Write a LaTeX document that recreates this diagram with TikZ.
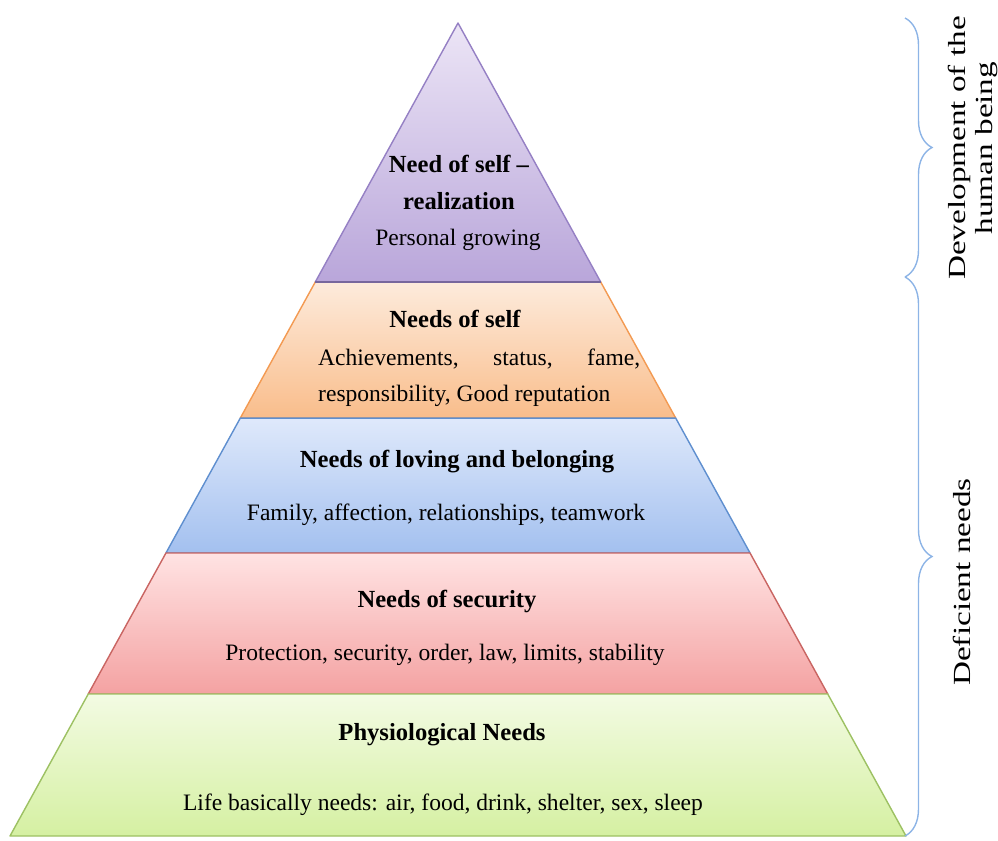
\documentclass[tikz,border=0pt]{standalone}
\usepackage{fontspec}
\setmainfont{Liberation Serif}
\usetikzlibrary{calc,decorations.pathreplacing}

\definecolor{selftop}{HTML}{ECE5F6}
\definecolor{selfbot}{HTML}{B9A6DA}
\definecolor{selfbd}{HTML}{9580C4}
\definecolor{esttop}{HTML}{FDEBDC}
\definecolor{estbot}{HTML}{F9BD8B}
\definecolor{estbd}{HTML}{F39A52}
\definecolor{lovetop}{HTML}{DFE9FB}
\definecolor{lovebot}{HTML}{A3C0EF}
\definecolor{lovebd}{HTML}{5F8FCF}
\definecolor{sectop}{HTML}{FFE3E3}
\definecolor{secbot}{HTML}{F4A2A2}
\definecolor{secbd}{HTML}{C96562}
\definecolor{phystop}{HTML}{F3FBE3}
\definecolor{physbot}{HTML}{D5F0A2}
\definecolor{physbd}{HTML}{9DC163}
\definecolor{bracecol}{HTML}{8DB4E6}

\begin{document}
\begin{tikzpicture}[x=0.02cm,y=-0.02cm,
	layer/.style={line width=0.8pt,line join=round},
	title/.style={anchor=base,font=\bfseries\fontsize{14}{21}\selectfont,align=center},
	body/.style={anchor=base,font=\fontsize{13.4}{20.5}\selectfont},
	brace/.style={bracecol,line width=0.8pt,decorate,decoration={brace,amplitude=0.54cm}},
	side/.style={rotate=90,xscale=1.35,font=\fontsize{14}{15}\selectfont,align=center}]
	\useasboundingbox (0,0) rectangle (998,840);
	% corners of the pyramid
	\coordinate (apex) at (458,23);
	\coordinate (bl) at (10,836);
	\coordinate (br) at (906,836);
	\foreach \i/\f in {1/0.3186,2/0.4859,3/0.6519,4/0.8253,5/1}{
		\coordinate (l\i) at ($(apex)!\f!(bl)$);
		\coordinate (r\i) at ($(apex)!\f!(br)$);
	}
	
	% layers, top down
	\draw[layer,draw=selfbd,top color=selftop,bottom color=selfbot] (apex) -- (r1) -- (l1) -- cycle;
	\draw[layer,draw=estbd,top color=esttop,bottom color=estbot] (l1) -- (r1) -- (r2) -- (l2) -- cycle;
	\draw[layer,draw=lovebd,top color=lovetop,bottom color=lovebot] (l2) -- (r2) -- (r3) -- (l3) -- cycle;
	\draw[layer,draw=secbd,top color=sectop,bottom color=secbot] (l3) -- (r3) -- (r4) -- (l4) -- cycle;
	\draw[layer,draw=physbd,top color=phystop,bottom color=physbot] (l4) -- (r4) -- (r5) -- (l5) -- cycle;
	\draw[selfbd!80!black,line width=1pt] (l1) -- (r1);
	
	\node[title] (selfT) at (459,209) {Need of self --\\realization};
	\node[body] (selfB) at (458,245) {Personal growing};
	
	\node[title] (estT) at (455,327) {Needs of self};
	\node[body,anchor=base west,text width=6.44cm,align=justify] (estB) at (312,365)
		{Achievements, status, fame,\linebreak responsibility, Good reputation};
	
	\node[title] (loveT) at (457,467) {Needs of loving and belonging};
	\node[body] (loveB) at (446,520) {Family, affection, relationships, teamwork};
	
	\node[title] (secT) at (447,607) {Needs of security};
	\node[body] (secB) at (445,660) {Protection, security, order, law, limits, stability};
	
	\node[title] (physT) at (442,740) {Physiological Needs};
	\node[body] (physB) at (443,810) {Life basically needs: air, food, drink, shelter, sex, sleep};
	
	% braces on the right
	\coordinate (b0) at (905,18);
	\coordinate (b1) at (905,277);
	\coordinate (b2) at (905,836);
	\draw[brace] (b0) -- (b1);
	\draw[brace] (b1) -- (b2);
	\node[side] (dev) at (973,148) {Development of the\\human being};
	\node[side] (defic) at (962,582) {Deficient needs};
\end{tikzpicture}
\end{document}
